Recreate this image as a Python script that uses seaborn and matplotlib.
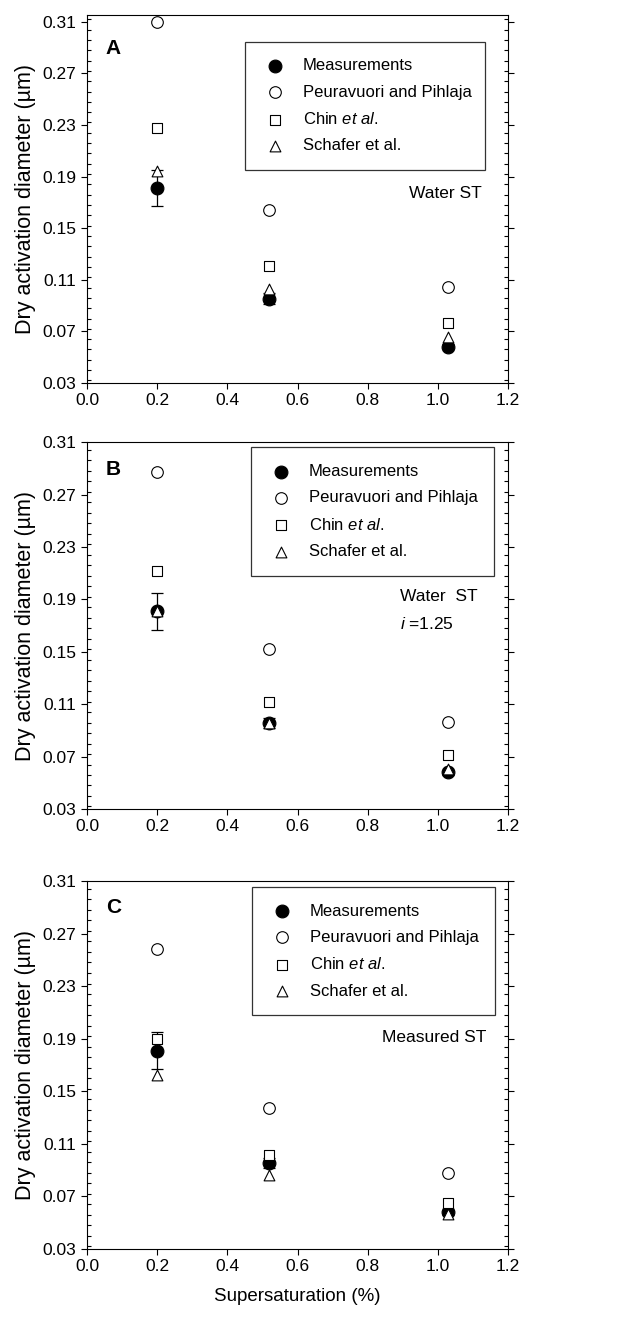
import matplotlib
matplotlib.use('Agg')
import matplotlib.pyplot as plt
import seaborn as sns
from matplotlib.ticker import MultipleLocator

# --- dados ---
supersat = [0.2, 0.52, 1.03]

meas = [0.181, 0.0955, 0.058]
meas_err = [0.014, 0.004, 0.002]

# painel A: Water ST
peur_a = [0.310, 0.164, 0.1044]
chin_a = [0.228, 0.121, 0.0767]
schafer_a = [0.194, 0.103, 0.0658]

# painel B: Water ST, i = 1.25
peur_b = [0.287, 0.152, 0.0968]
chin_b = [0.212, 0.112, 0.0714]
schafer_b = [0.181, 0.096, 0.0605]

# painel C: Measured ST
peur_c = [0.258, 0.137, 0.0878]
chin_c = [0.190, 0.1017, 0.065]
schafer_c = [0.1625, 0.0865, 0.0566]

series_labels = ['Measurements', 'Peuravuori and Pihlaja', r'Chin $\mathit{et\ al.}$', 'Schafer et al.']
yticks = [0.03, 0.07, 0.11, 0.15, 0.19, 0.23, 0.27, 0.31]
xticks = [0.0, 0.2, 0.4, 0.6, 0.8, 1.0, 1.2]

# --- estilo ---
sns.set_style("ticks")
plt.rcParams['font.family'] = ['Liberation Sans', 'DejaVu Sans']
plt.rcParams['mathtext.fontset'] = 'custom'
plt.rcParams['mathtext.rm'] = 'Liberation Sans'
plt.rcParams['mathtext.it'] = 'Liberation Sans:italic'
for k in ['text.color', 'axes.labelcolor', 'xtick.color', 'ytick.color', 'axes.edgecolor']:
    plt.rcParams[k] = 'black'

fig = plt.figure(figsize=(6.25, 13.22), dpi=100)

panels = [
    dict(rect=[0.1392, 0.7103, 0.6736, 0.2784], ytop=0.3154, peur=peur_a, chin=chin_a, sch=schafer_a,
         letter='A', lety=0.91, leg=(0.375, 0.927, 0.57)),
    dict(rect=[0.1392, 0.3880, 0.6736, 0.2776], ytop=0.31, peur=peur_b, chin=chin_b, sch=schafer_b,
         letter='B', lety=0.924, leg=(0.39, 0.986, 0.577)),
    dict(rect=[0.1392, 0.0552, 0.6736, 0.2784], ytop=0.31, peur=peur_c, chin=chin_c, sch=schafer_c,
         letter='C', lety=0.927, leg=(0.392, 0.984, 0.577)),
]

axes = []
for p in panels:
    ax = fig.add_axes(p['rect'])
    axes.append(ax)

    ax.errorbar(supersat, meas, yerr=meas_err, fmt='none', ecolor='black',
                elinewidth=0.9, capsize=4, capthick=0.9, zorder=2)
    sns.scatterplot(x=supersat, y=meas, marker='o', s=85, color='black',
                    edgecolor='black', linewidth=0.8, label=series_labels[0], ax=ax, zorder=3)
    sns.scatterplot(x=supersat, y=p['peur'], marker='o', s=70, color='white',
                    edgecolor='black', linewidth=0.8, label=series_labels[1], ax=ax, zorder=3)
    sns.scatterplot(x=supersat, y=p['chin'], marker='s', s=45, color='white',
                    edgecolor='black', linewidth=0.8, label=series_labels[2], ax=ax, zorder=3)
    sns.scatterplot(x=supersat, y=p['sch'], marker='^', s=60, color='white',
                    edgecolor='black', linewidth=0.8, label=series_labels[3], ax=ax, zorder=4)

    ax.set_xlim(0.0, 1.2)
    ax.set_ylim(0.03, p['ytop'])
    ax.set_xticks(xticks)
    ax.set_xticklabels([f'{t:.1f}' for t in xticks])
    ax.set_yticks(yticks)
    ax.set_yticklabels([f'{t:.2f}' for t in yticks])
    ax.yaxis.set_minor_locator(MultipleLocator(0.008))
    ax.tick_params(axis='both', which='major', labelsize=12.5, direction='out', length=4, width=0.8)
    ax.tick_params(axis='y', which='both', right=True)
    ax.tick_params(axis='y', which='minor', direction='in', length=3, width=0.8)
    for s in ax.spines.values():
        s.set_visible(True)
        s.set_linewidth(0.8)
        s.set_color('black')

    ax.set_ylabel('Dry activation diameter (\u00b5m)', fontsize=15.5, labelpad=5)
    ax.set_xlabel('')

    ax.text(0.045, p['lety'], p['letter'], transform=ax.transAxes,
            fontsize=15, fontweight='bold', ha='left', va='center')

    x0, ytop, w = p['leg']
    leg = ax.legend(loc='upper left', bbox_to_anchor=(x0, ytop, w, 0.0), mode='expand',
                    fontsize=12, frameon=True, fancybox=False, edgecolor='black',
                    borderpad=1.0, labelspacing=0.68, handlelength=1.6, handletextpad=0.87,
                    borderaxespad=0.0)
    leg.get_frame().set_linewidth(0.9)

axes[0].text(0.938, 0.516, 'Water ST', transform=axes[0].transAxes, fontsize=12.5, ha='right', va='center')
axes[1].text(0.743, 0.578, 'Water  ST', transform=axes[1].transAxes, fontsize=12.5, ha='left', va='center')
axes[1].text(0.743, 0.504, r'$\mathit{i}$ =1.25', transform=axes[1].transAxes, fontsize=12.5, ha='left', va='center')
axes[2].text(0.948, 0.576, 'Measured ST', transform=axes[2].transAxes, fontsize=12.5, ha='right', va='center')

axes[2].set_xlabel('Supersaturation (%)', fontsize=13.5, labelpad=10)

fig.savefig('out.png', dpi=100)
